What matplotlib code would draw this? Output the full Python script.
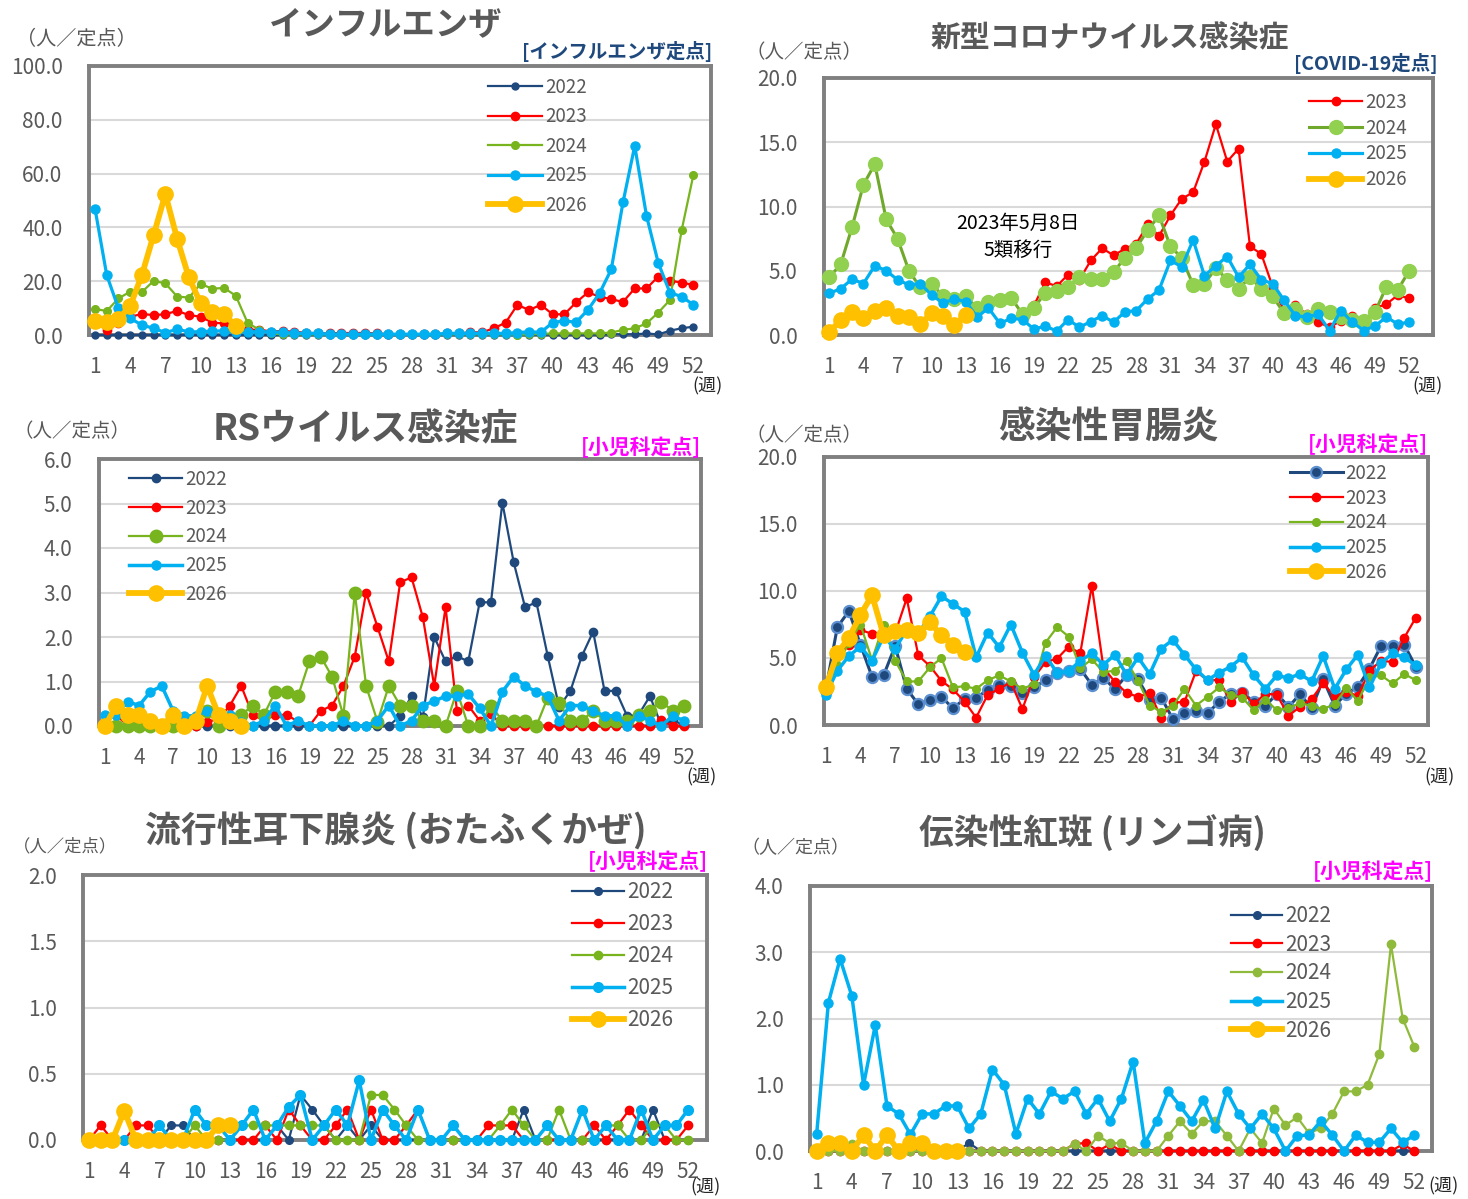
import matplotlib
matplotlib.use('Agg')
import matplotlib.pyplot as plt
from matplotlib.ticker import MultipleLocator, FormatStrFormatter

plt.rcParams['font.family'] = ['Noto Sans CJK JP', 'DejaVu Sans']

W, H = 1468, 1199
weeks = list(range(1, 53))
week_ticks = list(range(1, 53, 3))

# ---- インフルエンザ
flu_2022 = [0.0, 0.0, 0.0, 0.0, 0.0, 0.0, 0.0, 0.0, 0.0, 0.0,
            0.0, 0.0, 0.0, 0.0, 0.0, 0.0, 0.0, 0.0, 0.0, 0.0,
            0.0, 0.0, 0.0, 0.0, 0.0, 0.0, 0.0, 0.0, 0.0, 0.0,
            0.0, 0.0, 0.0, 0.0, 0.0, 0.0, 0.0, 0.0, 0.1, 0.1,
            0.1, 0.1, 0.1, 0.1, 0.2, 0.3, 0.2, 0.6, 0.2, 1.6,
            2.5, 3.1]
flu_2023 = [5.5, 1.9, 4.3, 6.8, 7.8, 7.4, 7.7, 9.0, 7.4, 6.8,
            4.6, 4.3, 3.1, 1.9, 2.0, 1.3, 1.5, 1.2, 0.8, 0.7,
            0.6, 0.8, 0.7, 0.8, 0.6, 0.3, 0.3, 0.3, 0.3, 0.3,
            0.6, 0.6, 1.0, 1.0, 2.5, 4.6, 11.2, 9.3, 11.2, 7.7,
            7.7, 12.1, 15.8, 14.3, 13.3, 12.3, 17.3, 17.3, 21.7, 20.2,
            19.5, 18.6]
flu_2024 = [9.7, 8.9, 13.6, 16.1, 16.0, 20.1, 19.2, 14.3, 13.9, 19.0,
            17.2, 17.5, 14.6, 4.6, 1.9, 0.6, 0.2, 0.2, 0.2, 0.2,
            0.2, 0.2, 0.2, 0.2, 0.2, 0.2, 0.2, 0.2, 0.2, 0.2,
            0.2, 0.2, 0.2, 0.2, 0.2, 0.2, 0.1, 0.2, 0.4, 0.6,
            0.6, 0.6, 0.6, 0.6, 0.9, 1.9, 2.5, 4.3, 8.3, 13.0,
            39.0, 59.5]
flu_2025 = [47.0, 22.3, 9.9, 6.2, 3.7, 2.5, 0.9, 2.1, 1.2, 1.2,
            1.5, 1.5, 1.0, 1.2, 1.2, 1.2, 1.0, 0.6, 0.6, 0.6,
            0.3, 0.3, 0.3, 0.3, 0.3, 0.3, 0.3, 0.3, 0.3, 0.3,
            0.6, 0.6, 0.6, 0.6, 0.6, 0.6, 0.9, 1.2, 1.0, 4.6,
            5.3, 4.7, 9.3, 15.5, 24.4, 49.3, 70.3, 44.4, 26.9, 15.7,
            14.3, 11.2]
flu_2026 = [5.3, 4.7, 5.9, 10.8, 22.3, 37.2, 52.4, 35.8, 21.4, 11.8,
            8.7, 7.8, 3.3]

# ---- 新型コロナウイルス感染症 (2023 starts at week 19)
cov_2023 = [None, None, None, None, None, None, None, None, None, None,
            None, None, None, None, None, None, None, None, 2.3, 4.1,
            3.8, 4.7, 4.3, 5.8, 6.75, 6.2, 6.7, 7.1, 8.6, 7.7,
            9.3, 10.6, 11.1, 13.5, 16.4, 13.5, 14.5, 6.9, 6.3, 3.75,
            1.9, 2.3, 1.6, 1.0, 0.6, 1.1, 1.5, 0.6, 2.1, 2.4,
            3.1, 2.85]
cov_2024 = [4.5, 5.5, 8.4, 11.7, 13.3, 9.0, 7.5, 5.0, 3.7, 4.0,
            3.0, 2.8, 3.0, 2.1, 2.6, 2.7, 2.9, 1.6, 2.1, 3.3,
            3.4, 3.75, 4.55, 4.35, 4.35, 4.9, 6.0, 6.8, 8.15, 9.3,
            6.9, 6.0, 3.9, 4.0, 5.2, 4.3, 3.6, 4.5, 3.6, 3.0,
            1.7, 2.0, 1.4, 2.0, 1.8, 1.4, 1.2, 1.1, 1.8, 3.75,
            3.5, 5.0]
cov_2025 = [3.25, 3.6, 4.35, 4.0, 5.4, 5.0, 4.3, 3.9, 4.0, 3.1,
            2.5, 2.8, 2.6, 1.4, 2.1, 0.9, 1.3, 1.2, 0.45, 0.7,
            0.3, 1.2, 0.6, 1.05, 1.5, 1.0, 1.8, 1.9, 2.8, 3.5,
            5.8, 5.3, 7.4, 4.6, 5.4, 6.1, 4.5, 5.5, 4.3, 4.0,
            2.7, 1.5, 1.4, 1.6, 0.35, 1.9, 1.0, 0.35, 0.7, 1.4,
            0.85, 1.0]
cov_2026 = [0.25, 1.15, 1.8, 1.3, 1.85, 2.1, 1.5, 1.4, 0.85, 1.7,
            1.5, 0.8, 1.55]

# ---- RSウイルス感染症
rs_2022 = [0.0, 0.0, 0.0, 0.0, 0.0, 0.0, 0.0, 0.0, 0.0, 0.0,
           0.0, 0.0, 0.0, 0.0, 0.0, 0.0, 0.0, 0.0, 0.0, 0.0,
           0.0, 0.0, 0.0, 0.0, 0.0, 0.0, 0.23, 0.67, 0.2, 2.0,
           1.45, 1.57, 1.45, 2.78, 2.78, 5.02, 3.68, 2.67, 2.78, 1.57,
           0.43, 0.79, 1.57, 2.12, 0.79, 0.79, 0.22, 0.25, 0.67, 0.02,
           0.13, 0.02]
rs_2023 = [0.1, 0.25, 0.0, 0.0, 0.0, 0.0, 0.1, 0.05, 0.0, 0.1,
           0.15, 0.46, 0.9, 0.25, 0.13, 0.25, 0.25, 0.1, 0.0, 0.34,
           0.46, 0.9, 1.56, 3.0, 2.23, 1.45, 3.23, 3.34, 2.44, 0.9,
           2.67, 0.34, 0.46, 0.12, 0.28, 0.0, 0.0, 0.0, 0.0, 0.0,
           0.0, 0.0, 0.0, 0.0, 0.0, 0.0, 0.0, 0.0, 0.0, 0.13,
           0.0, 0.0]
rs_2024 = [0.0, 0.0, 0.0, 0.0, 0.0, 0.0, 0.0, 0.1, 0.12, 0.34,
           0.0, 0.1, 0.25, 0.46, 0.25, 0.77, 0.77, 0.67, 1.45, 1.56,
           1.11, 0.23, 3.0, 0.9, 0.1, 0.9, 0.46, 0.46, 0.12, 0.12,
           0.0, 0.79, 0.0, 0.0, 0.46, 0.12, 0.12, 0.12, 0.0, 0.64,
           0.51, 0.12, 0.12, 0.34, 0.12, 0.12, 0.12, 0.25, 0.34, 0.55,
           0.34, 0.46]
rs_2025 = [0.25, 0.25, 0.55, 0.46, 0.77, 0.9, 0.34, 0.23, 0.23, 0.34,
           0.25, 0.25, 0.1, 0.0, 0.12, 0.46, 0.0, 0.12, 0.0, 0.0,
           0.0, 0.12, 0.0, 0.0, 0.12, 0.46, 0.0, 0.12, 0.46, 0.56,
           0.67, 0.67, 0.72, 0.4, 0.0, 0.77, 1.11, 0.9, 0.77, 0.67,
           0.12, 0.46, 0.46, 0.34, 0.23, 0.23, 0.0, 0.23, 0.12, 0.0,
           0.23, 0.12]
rs_2026 = [0.0, 0.46, 0.25, 0.25, 0.12, 0.0, 0.25, 0.0, 0.12, 0.9,
           0.25, 0.12, 0.0]

# ---- 感染性胃腸炎
ga_2022 = [2.6, 7.3, 8.5, 6.0, 3.6, 3.7, 5.9, 2.7, 1.55, 1.9,
           2.1, 1.25, 1.95, 2.05, 2.6, 3.0, 2.9, 2.4, 2.8, 3.35,
           3.9, 4.0, 4.2, 3.0, 3.5, 2.7, 3.7, 3.4, 1.9, 2.05,
           0.45, 0.9, 1.05, 0.9, 1.7, 2.35, 2.4, 1.75, 1.4, 2.35,
           1.35, 2.3, 1.25, 3.4, 1.45, 2.35, 2.85, 4.2, 5.9, 5.9,
           6.0, 4.35]
ga_2023 = [2.8, 5.3, 6.0, 7.1, 6.8, 6.85, 6.85, 9.45, 5.2, 4.4,
           3.3, 2.65, 1.75, 0.55, 2.25, 2.7, 3.2, 1.2, 3.55, 4.7,
           4.95, 5.85, 5.35, 10.4, 4.3, 3.2, 2.4, 2.1, 2.4, 0.55,
           1.7, 1.7, 4.0, 3.35, 3.35, 1.75, 2.5, 1.55, 2.35, 2.25,
           0.7, 1.35, 1.95, 3.1, 2.15, 2.5, 2.15, 4.05, 4.8, 4.7,
           6.5, 8.0]
ga_2024 = [2.7, 4.5, 6.1, 7.5, 4.85, 7.5, 4.8, 3.25, 3.25, 4.3,
           5.0, 2.8, 2.9, 2.7, 3.35, 3.7, 3.25, 2.7, 3.05, 6.15,
           7.3, 6.6, 4.25, 4.9, 3.95, 4.05, 4.75, 3.3, 1.45, 1.0,
           1.4, 2.7, 1.45, 2.1, 2.8, 2.25, 2.05, 1.1, 1.9, 1.1,
           1.25, 1.65, 1.4, 1.2, 1.55, 2.75, 1.8, 3.55, 3.7, 3.1,
           3.8, 3.35]
ga_2025 = [2.25, 4.05, 5.15, 5.85, 4.8, 6.6, 5.7, 7.1, 6.85, 8.1,
           9.6, 9.05, 8.45, 5.05, 6.9, 5.8, 7.5, 5.4, 3.75, 5.15,
           3.9, 4.0, 4.8, 5.35, 4.5, 5.25, 3.75, 5.05, 3.8, 5.7,
           6.35, 5.25, 4.15, 3.35, 3.9, 4.35, 5.05, 3.7, 2.7, 3.7,
           3.5, 3.8, 3.25, 5.15, 2.7, 4.15, 5.25, 2.8, 4.6, 5.35,
           5.05, 4.45]
ga_2026 = [2.8, 5.35, 6.5, 8.2, 9.7, 6.7, 7.0, 7.1, 6.85, 7.65,
           6.7, 6.0, 5.45]

# ---- 流行性耳下腺炎
mu_2022 = [0.0, 0.0, 0.0, 0.0, 0.0, 0.0, 0.0, 0.11, 0.11, 0.0,
           0.0, 0.0, 0.0, 0.0, 0.0, 0.0, 0.11, 0.0, 0.34, 0.23,
           0.11, 0.0, 0.11, 0.0, 0.11, 0.0, 0.0, 0.0, 0.0, 0.0,
           0.0, 0.0, 0.0, 0.0, 0.0, 0.0, 0.0, 0.23, 0.0, 0.0,
           0.0, 0.0, 0.0, 0.0, 0.0, 0.0, 0.0, 0.0, 0.23, 0.0,
           0.0, 0.0]
mu_2023 = [0.0, 0.11, 0.0, 0.0, 0.11, 0.11, 0.0, 0.0, 0.0, 0.0,
           0.0, 0.0, 0.0, 0.0, 0.0, 0.11, 0.0, 0.23, 0.11, 0.0,
           0.0, 0.11, 0.23, 0.0, 0.23, 0.0, 0.0, 0.11, 0.23, 0.0,
           0.0, 0.0, 0.0, 0.0, 0.11, 0.11, 0.11, 0.0, 0.0, 0.0,
           0.0, 0.0, 0.0, 0.11, 0.0, 0.11, 0.23, 0.11, 0.0, 0.0,
           0.0, 0.11]
mu_2024 = [0.0, 0.0, 0.0, 0.0, 0.0, 0.0, 0.0, 0.0, 0.0, 0.11,
           0.0, 0.0, 0.0, 0.11, 0.11, 0.11, 0.11, 0.11, 0.11, 0.11,
           0.11, 0.0, 0.0, 0.0, 0.34, 0.34, 0.23, 0.11, 0.0, 0.0,
           0.0, 0.0, 0.0, 0.0, 0.0, 0.11, 0.23, 0.11, 0.0, 0.0,
           0.23, 0.0, 0.0, 0.0, 0.11, 0.11, 0.0, 0.0, 0.11, 0.11,
           0.0, 0.0]
mu_2025 = [0.0, 0.0, 0.0, 0.0, 0.0, 0.0, 0.11, 0.0, 0.0, 0.23,
           0.11, 0.11, 0.0, 0.11, 0.23, 0.0, 0.11, 0.25, 0.34, 0.0,
           0.11, 0.23, 0.11, 0.45, 0.0, 0.23, 0.11, 0.0, 0.23, 0.0,
           0.0, 0.11, 0.0, 0.0, 0.0, 0.0, 0.0, 0.0, 0.0, 0.11,
           0.0, 0.0, 0.23, 0.0, 0.11, 0.0, 0.0, 0.23, 0.0, 0.11,
           0.11, 0.23]
mu_2026 = [0.0, 0.0, 0.0, 0.22, 0.0, 0.0, 0.0, 0.0, 0.0, 0.0,
           0.0, 0.11, 0.11]

# ---- 伝染性紅斑
fi_2022 = [0.0, 0.0, 0.0, 0.0, 0.0, 0.0, 0.0, 0.0, 0.0, 0.0,
           0.0, 0.0, 0.0, 0.12, 0.0, 0.0, 0.0, 0.0, 0.0, 0.0,
           0.0, 0.0, 0.0, 0.0, 0.0, 0.0, 0.0, 0.0, 0.0, 0.0,
           0.0, 0.0, 0.0, 0.0, 0.0, 0.0, 0.0, 0.0, 0.0, 0.0,
           0.0, 0.0, 0.0, 0.0, 0.0, 0.0, 0.0, 0.0, 0.0, 0.0,
           0.0, 0.0]
fi_2023 = [0.0, 0.0, 0.0, 0.0, 0.0, 0.0, 0.0, 0.0, 0.0, 0.0,
           0.0, 0.0, 0.0, 0.0, 0.0, 0.0, 0.0, 0.0, 0.0, 0.0,
           0.0, 0.0, 0.11, 0.12, 0.0, 0.1, 0.0, 0.0, 0.0, 0.0,
           0.0, 0.0, 0.0, 0.0, 0.0, 0.0, 0.0, 0.0, 0.0, 0.0,
           0.0, 0.0, 0.0, 0.0, 0.0, 0.0, 0.0, 0.0, 0.0, 0.0,
           0.1, 0.0]
fi_2024 = [0.0, 0.0, 0.0, 0.11, 0.0, 0.0, 0.0, 0.0, 0.0, 0.0,
           0.0, 0.0, 0.0, 0.0, 0.0, 0.0, 0.0, 0.0, 0.0, 0.0,
           0.0, 0.0, 0.11, 0.0, 0.23, 0.12, 0.12, 0.0, 0.0, 0.0,
           0.23, 0.45, 0.26, 0.45, 0.45, 0.23, 0.0, 0.34, 0.12, 0.64,
           0.39, 0.51, 0.27, 0.34, 0.56, 0.9, 0.9, 1.0, 1.46, 3.12,
           2.0, 1.57]
fi_2025 = [0.26, 2.24, 2.9, 2.34, 1.0, 1.9, 0.68, 0.56, 0.25, 0.56,
           0.56, 0.68, 0.68, 0.34, 0.56, 1.23, 1.0, 0.26, 0.79, 0.56,
           0.9, 0.79, 0.9, 0.56, 0.79, 0.45, 0.79, 1.35, 0.12, 0.45,
           0.9, 0.68, 0.45, 0.77, 0.34, 0.9, 0.56, 0.34, 0.56, 0.34,
           0.0, 0.23, 0.24, 0.45, 0.24, 0.0, 0.24, 0.13, 0.13, 0.34,
           0.13, 0.24]
fi_2026 = [0.0, 0.12, 0.12, 0.0, 0.24, 0.0, 0.24, 0.0, 0.12, 0.12,
           0.0, 0.0, 0.0]

# Colours
c22 = '#1f497d'
c23 = '#ff0000'
c24 = '#77b41e'
c25 = '#00b0f0'
c26 = '#ffc000'
grey = '#595959'
spine_grey = '#808080'


def fx(px):
    return px / W


def fy(py):
    return 1 - py / H


def small(color, ms=5.5, lw=1.6):
    return dict(color=color, lw=lw, marker='o', ms=ms, mec=color, mfc=color)


def big26():
    return dict(color=c26, lw=4.2, marker='o', ms=11, mec=c26, mfc=c26)


panels = [
    dict(box=(89, 66, 711, 335), xlim=(0.49, 53.5), ymax=100, ystep=20,
         title='インフルエンザ', title_xy=(386, 25), title_size=24,
         unit_xy=(76, 40), unit_size=14.5,
         tag='[インフルエンザ定点]', tag_color='#1f497d', tag_xy=(712, 52), tag_size=14,
         week_xy=(708, 386),
         leg_xy=(488, 77), leg_size=13.5, leg_space=0.45, leg_hl=2.9,
         series=[('2022', flu_2022, small(c22, 5)),
                 ('2023', flu_2023, small(c23, 6)),
                 ('2024', flu_2024, small(c24, 5.5)),
                 ('2025', flu_2025, small(c25, 6.5, 2.3)),
                 ('2026', flu_2026, big26())]),
    dict(box=(824, 78, 1433, 335), xlim=(0.53, 54.1), ymax=20, ystep=5,
         title='新型コロナウイルス感染症', title_xy=(1110, 38), title_size=21.5,
         unit_xy=(804, 53), unit_size=14,
         tag='[COVID-19定点]', tag_color='#1f497d', tag_xy=(1438, 64), tag_size=14,
         week_xy=(1427, 386),
         leg_xy=(1309, 92), leg_size=13.5, leg_space=0.25, leg_hl=2.85,
         series=[('2023', cov_2023, small(c23, 6)),
                 ('2024', cov_2024, dict(color='#6fa82a', lw=2.2, marker='o', ms=10,
                                         mec='#92d050', mfc='#92d050')),
                 ('2025', cov_2025, small(c25, 6.5, 2.3)),
                 ('2026', cov_2026, big26())]),
    dict(box=(99, 459, 701, 726), xlim=(0.47, 53.5), ymax=6, ystep=1,
         title='RSウイルス感染症', title_xy=(365, 430), title_size=26.5,
         unit_xy=(72, 432), unit_size=14,
         tag='[小児科定点]', tag_color='#ff00ff', tag_xy=(701, 447), tag_size=15,
         week_xy=(701, 777),
         leg_xy=(129, 469), leg_size=13.5, leg_space=0.41, leg_hl=2.85,
         series=[('2022', rs_2022, small(c22, 6)),
                 ('2023', rs_2023, small(c23, 6)),
                 ('2024', rs_2024, small(c24, 9)),
                 ('2025', rs_2025, small(c25, 6.5, 2.5)),
                 ('2026', rs_2026, big26())]),
    dict(box=(824, 457, 1428, 725), xlim=(0.85, 53.06), ymax=20, ystep=5,
         title='感染性胃腸炎', title_xy=(1108, 428), title_size=26.5,
         unit_xy=(804, 436), unit_size=14,
         tag='[小児科定点]', tag_color='#ff00ff', tag_xy=(1428, 444), tag_size=15,
         week_xy=(1440, 777),
         leg_xy=(1290, 463), leg_size=13.5, leg_space=0.2, leg_hl=2.8,
         series=[('2022', ga_2022, dict(color=c22, lw=2.2, marker='o', ms=8,
                                        mfc=c22, mec='#5b8fd0', mew=1.6)),
                 ('2023', ga_2023, small(c23, 6)),
                 ('2024', ga_2024, small(c24, 5.5)),
                 ('2025', ga_2025, small(c25, 6.5, 2.5)),
                 ('2026', ga_2026, big26())]),
    dict(box=(83, 875, 707, 1140), xlim=(0.49, 53.6), ymax=2, ystep=0.5,
         title='流行性耳下腺炎 (おたふくかぜ)', title_xy=(396, 832), title_size=25.8,
         unit_xy=(65, 846), unit_size=12.5,
         tag='[小児科定点]', tag_color='#ff00ff', tag_xy=(708, 861), tag_size=15,
         week_xy=(706, 1187),
         leg_xy=(572, 881), leg_size=15, leg_space=0.48, leg_hl=2.5,
         series=[('2022', mu_2022, small(c22, 5.5)),
                 ('2023', mu_2023, small(c23, 6)),
                 ('2024', mu_2024, small(c24, 6)),
                 ('2025', mu_2025, small(c25, 7, 2.5)),
                 ('2026', mu_2026, big26())]),
    dict(box=(810, 886, 1432, 1151), xlim=(0.43, 53.5), ymax=4, ystep=1,
         title='伝染性紅斑 (リンゴ病)', title_xy=(1092, 833), title_size=25,
         unit_xy=(795, 848), unit_size=13,
         tag='[小児科定点]', tag_color='#ff00ff', tag_xy=(1433, 871), tag_size=15,
         week_xy=(1443, 1186),
         leg_xy=(1231, 905), leg_size=15, leg_space=0.32, leg_hl=2.45,
         series=[('2022', fi_2022, small(c22, 5.5)),
                 ('2023', fi_2023, small(c23, 6)),
                 ('2024', fi_2024, small('#8fba3c', 6)),
                 ('2025', fi_2025, small(c25, 6.5, 2.5)),
                 ('2026', fi_2026, big26())]),
]

fig = plt.figure(figsize=(W / 100, H / 100), dpi=100)

for p in panels:
    left, top, right, bottom = p['box']
    ax = fig.add_axes([fx(left), fy(bottom), (right - left) / W, (bottom - top) / H])

    for label, values, kw in p['series']:
        ax.plot(weeks[:len(values)], [float('nan') if v is None else v for v in values],
                label=label, clip_on=False, zorder=4, **kw)

    ax.set_xlim(*p['xlim'])
    ax.set_ylim(0, p['ymax'])
    ax.set_xticks(week_ticks)
    ax.yaxis.set_major_locator(MultipleLocator(p['ystep']))
    ax.yaxis.set_major_formatter(FormatStrFormatter('%.1f'))
    ax.tick_params(axis='x', length=0, pad=15, labelsize=15, labelcolor=grey)
    ax.tick_params(axis='y', length=0, pad=19, labelsize=15, labelcolor=grey)
    ax.yaxis.grid(color='#d9d9d9', linewidth=1.5)
    ax.set_axisbelow(True)
    for s in ax.spines.values():
        s.set_color(spine_grey)
        s.set_linewidth(2.8)

    leg = ax.legend(loc='upper left', bbox_to_anchor=(fx(p['leg_xy'][0]), fy(p['leg_xy'][1])),
                    bbox_transform=fig.transFigure, frameon=False, fontsize=p['leg_size'],
                    handlelength=p['leg_hl'], handletextpad=0.15, labelspacing=p['leg_space'],
                    borderpad=0, borderaxespad=0)
    for t in leg.get_texts():
        t.set_color(grey)

    fig.text(fx(p['title_xy'][0]), fy(p['title_xy'][1]), p['title'], ha='center', va='center',
             fontsize=p['title_size'], fontweight='bold', color=grey)
    fig.text(fx(p['unit_xy'][0]), fy(p['unit_xy'][1]), '（人／定点）', ha='center', va='center',
             fontsize=p['unit_size'], color=grey)
    fig.text(fx(p['tag_xy'][0]), fy(p['tag_xy'][1]), p['tag'], ha='right', va='center',
             fontsize=p['tag_size'], fontweight='bold', color=p['tag_color'])
    fig.text(fx(p['week_xy'][0]), fy(p['week_xy'][1]), '(週)', ha='center', va='center',
             fontsize=13, color='#262626')

# 5類移行 note on the COVID panel
fig.text(fx(1018), fy(237), '2023年5月8日\n5類移行', ha='center', va='center',
         fontsize=14, color='black', linespacing=1.35)

fig.savefig('out.png', dpi=100)
